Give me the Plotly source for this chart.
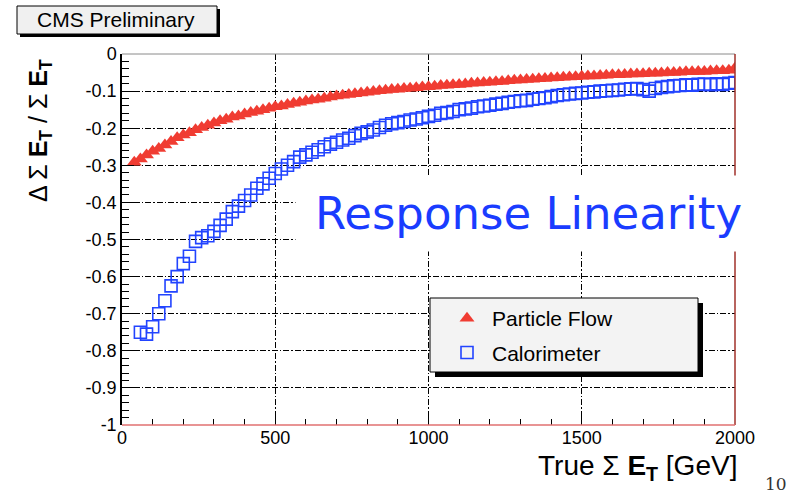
import plotly.graph_objects as go

# ---------------- data ----------------
pf_x = list(range(40, 2001, 20))
pf_y = [-0.292, -0.283, -0.272, -0.262, -0.255, -0.245, -0.236, -0.226, -0.218, -0.212,
        -0.204, -0.198, -0.192, -0.186, -0.180, -0.176, -0.170, -0.167, -0.162, -0.158,
        -0.154, -0.150, -0.146, -0.142, -0.140, -0.136, -0.133, -0.130, -0.127, -0.124,
        -0.122, -0.119, -0.116, -0.113, -0.111, -0.109, -0.107, -0.105, -0.103, -0.101,
        -0.099, -0.098, -0.096, -0.095, -0.093, -0.092, -0.091, -0.089, -0.088, -0.087,
        -0.085, -0.084, -0.083, -0.082, -0.081, -0.079, -0.078, -0.077, -0.076, -0.075,
        -0.074, -0.072, -0.071, -0.070, -0.069, -0.068, -0.067, -0.066, -0.065, -0.064,
        -0.063, -0.062, -0.061, -0.060, -0.059, -0.059, -0.058, -0.057, -0.056, -0.056,
        -0.055, -0.054, -0.054, -0.053, -0.052, -0.052, -0.051, -0.050, -0.050, -0.049,
        -0.048, -0.048, -0.047, -0.047, -0.046, -0.045, -0.045, -0.044, -0.038]

calo_x = list(range(60, 2001, 20))
calo_y = [-0.750, -0.755, -0.735, -0.700, -0.665, -0.625, -0.600, -0.565, -0.545, -0.505,
          -0.495, -0.490, -0.478, -0.462, -0.445, -0.425, -0.410, -0.395, -0.380, -0.362,
          -0.350, -0.335, -0.322, -0.310, -0.300, -0.290, -0.278, -0.272, -0.265, -0.258,
          -0.250, -0.243, -0.238, -0.232, -0.227, -0.220, -0.214, -0.210, -0.205, -0.198,
          -0.192, -0.188, -0.185, -0.182, -0.178, -0.175, -0.172, -0.168, -0.165, -0.160,
          -0.158, -0.155, -0.150, -0.148, -0.146, -0.142, -0.140, -0.138, -0.135, -0.133,
          -0.130, -0.128, -0.126, -0.125, -0.122, -0.120, -0.118, -0.115, -0.112, -0.110,
          -0.108, -0.106, -0.105, -0.103, -0.102, -0.100, -0.099, -0.098, -0.097, -0.095,
          -0.094, -0.093, -0.096, -0.100, -0.093, -0.090, -0.088, -0.086, -0.085, -0.083,
          -0.084, -0.082, -0.081, -0.083, -0.080, -0.082, -0.079, -0.077]

y_tickvals = [0, -0.1, -0.2, -0.3, -0.4, -0.5, -0.6, -0.7, -0.8, -0.9, -1]
y_ticktext = ["0", "-0.1", "-0.2", "-0.3", "-0.4", "-0.5", "-0.6", "-0.7", "-0.8", "-0.9", "-1"]
x_tickvals = [0, 500, 1000, 1500, 2000]
x_ticktext = ["0", "500", "1000", "1500", "2000"]

# ---------------- layout geometry ----------------
W, H = 804, 495
L, R, T, B = 122, 735, 54, 425


def px(x):
    return (x - L) / (R - L)


def py(y):
    return (B - y) / (B - T)


FONT = "Liberation Sans, Arial, Helvetica, sans-serif"
RED = "#f03c32"
BLUE = "#2244ff"
GRIDDASH = "6px,2px,1.5px,2px"

fig = go.Figure()
fig.add_trace(go.Scatter(
    x=pf_x, y=pf_y, mode="markers", name="Particle Flow", legendgroup="a",
    marker=dict(symbol="triangle-up", size=13, color=RED, line=dict(width=0)),
))
fig.add_trace(go.Scatter(
    x=calo_x, y=calo_y, mode="markers", name="Calorimeter", legendgroup="b",
    marker=dict(symbol="square-open", size=12, color=BLUE, line=dict(width=1.6, color=BLUE)),
))

shapes = [
    # frame
    dict(type="line", xref="paper", yref="paper", x0=0, x1=1, y0=1, y1=1,
         line=dict(color="#8a8a8a", width=1)),
    dict(type="line", xref="paper", yref="paper", x0=1, x1=1, y0=0, y1=1,
         line=dict(color="#a0302a", width=1.5)),
    dict(type="line", xref="paper", yref="paper", x0=0, x1=1, y0=0, y1=0,
         line=dict(color="#e07070", width=1.5)),
    # legend shadow + box
    dict(type="rect", xref="paper", yref="paper", x0=px(435), x1=px(703), y0=py(303), y1=py(377),
         fillcolor="black", line=dict(width=0)),
    dict(type="rect", xref="paper", yref="paper", x0=px(430), x1=px(698), y0=py(298), y1=py(372),
         fillcolor="#f3f3f3", line=dict(color="black", width=1)),
    # CMS box shadow + box
    dict(type="rect", xref="paper", yref="paper", x0=px(20), x1=px(220), y0=py(9), y1=py(37),
         fillcolor="black", line=dict(width=0)),
    dict(type="rect", xref="paper", yref="paper", x0=px(17), x1=px(217), y0=py(6), y1=py(34),
         fillcolor="#f0f0f0", line=dict(color="black", width=1)),
]

annotations = [
    dict(text="CMS Preliminary", xref="paper", yref="paper", x=px(116), y=py(20),
         xanchor="center", yanchor="middle", showarrow=False,
         font=dict(family=FONT, size=21, color="black")),
    dict(text="Response Linearity", xref="paper", yref="paper", x=px(528.5), y=py(213.5),
         xanchor="center", yanchor="middle", showarrow=False, width=463, height=73,
         bgcolor="white", font=dict(family="DejaVu Sans, Verdana, sans-serif", size=45, color="#1a3cff")),
    dict(text="Δ Σ <b>E</b><sub><b>T</b></sub> / Σ <b>E</b><sub><b>T</b></sub>",
         xref="paper", yref="paper", x=px(40), y=py(131), textangle=-90,
         xanchor="center", yanchor="middle", showarrow=False,
         font=dict(family=FONT, size=25, color="black")),
    dict(text="True Σ <b>E</b><sub><b>T</b></sub> [GeV]", xref="paper", yref="paper",
         x=px(739), y=py(467), xanchor="right", yanchor="middle", showarrow=False,
         font=dict(family=FONT, size=28, color="black")),
    dict(text="10", xref="paper", yref="paper", x=px(776), y=py(484),
         xanchor="center", yanchor="middle", showarrow=False,
         font=dict(family="DejaVu Serif, Liberation Serif, serif", size=17, color="#333333")),
]

fig.update_layout(
    width=W, height=H,
    margin=dict(l=L, r=W - R, t=T, b=H - B, pad=0),
    paper_bgcolor="white", plot_bgcolor="white",
    showlegend=True,
    legend=dict(x=px(442), y=py(298), xanchor="left", yanchor="top",
                bgcolor="rgba(0,0,0,0)", borderwidth=0, tracegroupgap=4,
                itemwidth=40,
                font=dict(family=FONT, size=21, color="black")),
    shapes=shapes, annotations=annotations,
    font=dict(family=FONT, color="black"),
)

fig.update_xaxes(
    range=[0, 2000], showline=False, zeroline=False,
    tickmode="array", tickvals=x_tickvals, ticktext=x_ticktext,
    ticks="inside", ticklen=10, tickwidth=1.2, tickcolor="black",
    tickfont=dict(family=FONT, size=18, color="black"),
    showgrid=True, gridcolor="black", gridwidth=1, griddash=GRIDDASH,
    minor=dict(ticks="inside", ticklen=6, tickcolor="black", tickwidth=1,
               tickmode="linear", tick0=0, dtick=100, showgrid=False),
)
fig.update_yaxes(
    range=[-1, 0], showline=True, linecolor="black", linewidth=1.5, zeroline=False,
    tickmode="array", tickvals=y_tickvals, ticktext=y_ticktext,
    ticks="inside", ticklen=12, tickwidth=1.2, tickcolor="black",
    tickfont=dict(family=FONT, size=18, color="black"),
    showgrid=True, gridcolor="black", gridwidth=1, griddash=GRIDDASH,
    minor=dict(ticks="inside", ticklen=7, tickcolor="black", tickwidth=1,
               tickmode="linear", tick0=0, dtick=0.02, showgrid=False),
)

fig.write_html("out.html")
